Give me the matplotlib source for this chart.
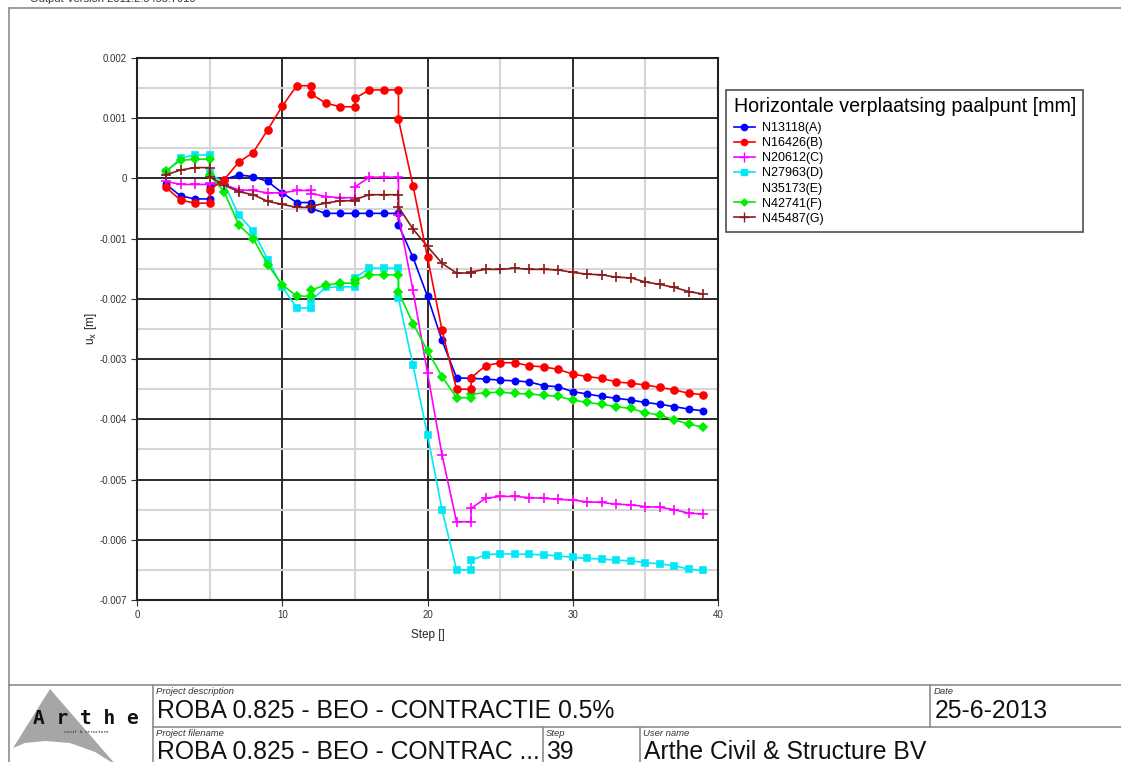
import matplotlib
matplotlib.use("Agg")
import matplotlib.pyplot as plt
from matplotlib.lines import Line2D
from matplotlib.patches import Polygon
import numpy as np

plt.rcParams['font.family'] = ['Liberation Sans', 'DejaVu Sans']

# ---------------- data (values in 1e-3 m) ----------------
steps = [2, 3, 4, 5, 5, 6, 7, 8, 9, 10, 11, 12, 12, 13, 14, 15, 15, 16, 17, 18, 18,
         19, 20, 21, 22, 23, 23, 24, 25, 26, 27, 28, 29, 30, 31, 32, 33, 34, 35, 36,
         37, 38, 39]

ux_A = [-0.10, -0.29, -0.34, -0.34, -0.14, -0.02, 0.06, 0.03, -0.05, -0.24, -0.40, -0.40,
        -0.50, -0.58, -0.58, -0.58, -0.58, -0.58, -0.58, -0.58, -0.77, -1.31, -1.96, -2.69,
        -3.31, -3.32, -3.32, -3.33, -3.35, -3.36, -3.38, -3.44, -3.46, -3.54, -3.58, -3.62,
        -3.65, -3.68, -3.72, -3.75, -3.79, -3.83, -3.86]
ux_B = [-0.15, -0.36, -0.41, -0.41, -0.19, -0.02, 0.27, 0.43, 0.81, 1.20, 1.54, 1.54,
        1.40, 1.25, 1.19, 1.19, 1.33, 1.47, 1.47, 1.47, 0.98, -0.12, -1.31, -2.52,
        -3.50, -3.50, -3.31, -3.11, -3.06, -3.06, -3.11, -3.13, -3.17, -3.25, -3.29, -3.32,
        -3.38, -3.40, -3.43, -3.47, -3.51, -3.57, -3.59]
ux_C = [-0.05, -0.10, -0.10, -0.10, -0.08, -0.10, -0.19, -0.20, -0.24, -0.24, -0.20, -0.20,
        -0.25, -0.30, -0.32, -0.32, -0.14, 0.02, 0.02, 0.02, -0.60, -1.86, -3.23, -4.59,
        -5.70, -5.70, -5.48, -5.31, -5.28, -5.28, -5.30, -5.31, -5.33, -5.34, -5.37, -5.38,
        -5.41, -5.42, -5.45, -5.46, -5.50, -5.56, -5.57]
ux_D = [0.10, 0.34, 0.39, 0.39, 0.09, -0.08, -0.61, -0.87, -1.35, -1.80, -2.15, -2.15,
        -2.02, -1.81, -1.80, -1.80, -1.65, -1.49, -1.49, -1.49, -1.99, -3.10, -4.26, -5.50,
        -6.50, -6.50, -6.34, -6.25, -6.23, -6.24, -6.24, -6.25, -6.27, -6.29, -6.31, -6.32,
        -6.34, -6.35, -6.38, -6.40, -6.43, -6.49, -6.51]
ux_F = [0.13, 0.30, 0.32, 0.32, 0.05, -0.22, -0.77, -1.00, -1.43, -1.77, -1.95, -1.96,
        -1.85, -1.77, -1.74, -1.74, -1.69, -1.60, -1.60, -1.60, -1.88, -2.41, -2.86, -3.29,
        -3.64, -3.64, -3.58, -3.56, -3.55, -3.57, -3.58, -3.60, -3.62, -3.68, -3.72, -3.75,
        -3.79, -3.82, -3.89, -3.93, -4.01, -4.08, -4.13]
ux_G = [0.06, 0.14, 0.18, 0.18, 0.03, -0.11, -0.22, -0.27, -0.38, -0.43, -0.48, -0.48,
        -0.46, -0.41, -0.37, -0.37, -0.35, -0.27, -0.27, -0.27, -0.47, -0.84, -1.13, -1.41,
        -1.57, -1.57, -1.55, -1.51, -1.51, -1.49, -1.51, -1.51, -1.52, -1.56, -1.59, -1.60,
        -1.64, -1.65, -1.72, -1.76, -1.81, -1.88, -1.92]

labels = ['N13118(A)', 'N16426(B)', 'N20612(C)', 'N27963(D)', 'N35173(E)', 'N42741(F)', 'N45487(G)']
legend_title = 'Horizontale verplaatsing paalpunt [mm]'
yticks_m = [0.002, 0.001, 0, -0.001, -0.002, -0.003, -0.004, -0.005, -0.006, -0.007]
ytick_labels = ['0.002', '0.001', '0', '-0.001', '-0.002', '-0.003', '-0.004', '-0.005', '-0.006', '-0.007']
xticks = [0, 10, 20, 30, 40]

# ---------------- figure ----------------
W, H = 1121, 762
fig = plt.figure(figsize=(W / 100, H / 100), dpi=100)

def fx(px):
    return px / W

def fy(py):
    return 1 - py / H

ax = fig.add_axes([fx(137), fy(600), fx(718) - fx(137), fy(58) - fy(600)])

C_A, C_B, C_C, C_D, C_F, C_G = '#0000ff', '#ff0000', '#ff00ff', '#00e8f8', '#00ee00', '#8b1a1a'
styles = [
    (ux_A, C_A, 'o', 4.5),
    (ux_C, C_C, '+', 7),
    (ux_D, C_D, 's', 5),
    (ux_F, C_F, 'D', 3.8),
    (ux_G, C_G, '+', 7),
    (ux_B, C_B, 'o', 5),
]
for vals, col, mk, ms in styles:
    ax.plot(steps, np.array(vals) / 1000.0, color=col, marker=mk, ms=ms, lw=1.2,
            mew=1.2, zorder=3)

ax.set_xlim(0, 40)
ax.set_ylim(-0.007, 0.002)
ax.set_xticks(xticks)
ax.set_yticks(yticks_m)
ax.set_yticklabels(ytick_labels)
ax.set_xticks([5, 15, 25, 35], minor=True)
ax.set_yticks([0.0015, 0.0005, -0.0005, -0.0015, -0.0025, -0.0035, -0.0045, -0.0055, -0.0065], minor=True)
ax.grid(which='minor', color='#d6d6d6', lw=1.5, zorder=1)
ax.grid(which='major', color='#2a2a2a', lw=1.4, zorder=1)
ax.tick_params(which='major', length=4, labelsize=7, colors='#333333', direction='out')
ax.tick_params(which='minor', length=0)
for s in ax.spines.values():
    s.set_linewidth(1.5)
    s.set_color('#222222')
ax.set_xlabel('Step []', fontsize=8.5, color='#222222', labelpad=6)
ax.set_ylabel(r'u$_\mathrm{x}$ [m]', fontsize=8.5, color='#222222', labelpad=0)

# legend
handles = [
    Line2D([], [], color=C_A, marker='o', ms=4.5, lw=1.2),
    Line2D([], [], color=C_B, marker='o', ms=4.5, lw=1.2),
    Line2D([], [], color=C_C, marker='+', ms=7, lw=1.2),
    Line2D([], [], color=C_D, marker='s', ms=5, lw=1.2),
    Line2D([], [], color='none', lw=0),
    Line2D([], [], color=C_F, marker='D', ms=3.5, lw=1.2),
    Line2D([], [], color=C_G, marker='+', ms=7, lw=1.2),
]
leg = fig.legend(handles, labels, title=legend_title, loc='upper left',
                 bbox_to_anchor=(fx(726), fy(90)), bbox_transform=fig.transFigure,
                 borderaxespad=0, fontsize=9, title_fontsize=14.1, frameon=True, fancybox=False,
                 edgecolor='#222222', borderpad=0.6, labelspacing=0.25,
                 handlelength=1.7, handletextpad=0.6, alignment='left')
leg.get_frame().set_linewidth(1.2)
leg._legend_box.sep = 4

# ---------------- page frame & title block ----------------
gray = '#8c8c8c'
def hline(y, x0, x1, lw=1.2):
    fig.add_artist(Line2D([fx(x0), fx(x1)], [fy(y), fy(y)], color=gray, lw=lw))

def vline(x, y0, y1, lw=1.2):
    fig.add_artist(Line2D([fx(x), fx(x)], [fy(y0), fy(y1)], color=gray, lw=lw))

hline(8, 9, W)
vline(9, 8, H)
hline(685, 9, W)
vline(153, 685, H)
hline(727, 153, W)
vline(930, 685, 727)
vline(543, 727, H)
vline(640, 727, H)

fig.text(fx(30), fy(-1), 'Output Version 2011.2.5455.7010', fontsize=8, va='center', color='#333333')

# logo
logo = Polygon([(fx(13), fy(748)), (fx(50), fy(689)), (fx(116), fy(765)),
                (fx(95), fy(752)), (fx(70), fy(743)), (fx(45), fy(741)), (fx(25), fy(743))],
               closed=True, transform=fig.transFigure, facecolor='#a6a6a6', edgecolor='none')
fig.add_artist(logo)
fig.text(fx(86), fy(718), 'A r t h e', fontsize=14, fontweight='bold', family='DejaVu Sans Mono',
         ha='center', va='center', color='#111111')
fig.text(fx(86), fy(732), 'civil & structure', fontsize=3.2, family='DejaVu Sans Mono',
         ha='center', va='center', color='#222222')

small = dict(fontsize=6.8, style='italic', color='#333333', va='center')
big = dict(fontsize=17.8, color='#111111', va='center')
fig.text(fx(156), fy(691), 'Project description', **small)
fig.text(fx(157), fy(711), 'ROBA 0.825 - BEO - CONTRACTIE 0.5%', **big)
fig.text(fx(934), fy(691), 'Date', **small)
fig.text(fx(935), fy(711), '25-6-2013', **big)
fig.text(fx(156), fy(733), 'Project filename', **small)
fig.text(fx(157), fy(752), 'ROBA 0.825 - BEO - CONTRAC ...', **big)
fig.text(fx(546), fy(733), 'Step', **small)
fig.text(fx(546), fy(752), '39', **big)
fig.text(fx(643), fy(733), 'User name', **small)
fig.text(fx(644), fy(752), 'Arthe Civil & Structure BV', **big)

fig.savefig('out.png', dpi=100)
